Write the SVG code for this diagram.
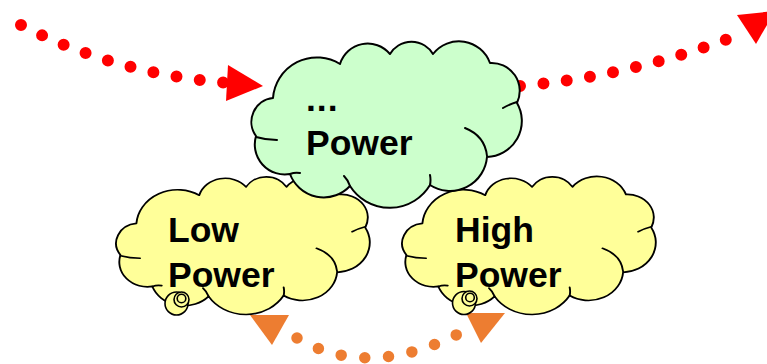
<svg xmlns="http://www.w3.org/2000/svg" width="767" height="364" viewBox="0 0 767 364">
<defs>
<style>
.cloud{stroke:#000;stroke-width:2;vector-effect:non-scaling-stroke;stroke-linejoin:round}
.inner{fill:none;stroke:#000;stroke-width:2;vector-effect:non-scaling-stroke;stroke-linecap:round}
.g{fill:#CCFFCC}
.y{fill:#FFFF99}
.tail{fill:#FFFF99;stroke:#000;stroke-width:1.6}
.lbl{font-family:"Liberation Sans",Arial,sans-serif;font-weight:bold;font-size:35.5px;fill:#000}
.red{fill:none;stroke:#FF0000;stroke-width:12;stroke-linecap:round;stroke-dasharray:0 23.5}
.org{fill:none;stroke:#ED7D31;stroke-width:11.5;stroke-linecap:round;stroke-dasharray:0 23.8}
</style>
<path id="cloudShape" d="M273,98 A44,44 0 0 1 340,64 A29,29 0 0 1 390,54 A25,25 0 0 1 433,54 A33,33 0 0 1 490,63 A28,28 0 0 1 517,103 A36,36 0 0 1 487,157 A37,37 0 0 1 430,185 A47,47 0 0 1 350,186 A36,36 0 0 1 290,174 A30,30 0 0 1 256,136 A24,24 0 0 1 273,98 Z"/>
<path id="cloudInner" d="M256,137 Q266,140 277,140 M517,102 Q510,104 503,108 M465,128 Q485,136 487,156 M430,175 Q431,180 430,185 M350,186 Q348,180 344,176 M290,174 Q295,172 300,173"/>
</defs>
<g id="connectors">
<path class="red" d="M21,25 Q115,74 229,83"/>
<polygon points="228,65 263,86 226,101" fill="#FF0000"/>
<path class="red" d="M520,86 Q631,76 733,37"/>
<polygon points="737,15 775,11 756,44" fill="#FF0000"/>
<path class="org" d="M297,338 Q368,380 460,333"/>
<polygon points="250,315 289,315 272,345" fill="#ED7D31"/>
<polygon points="466,313 505,313 481,343" fill="#ED7D31"/>
</g>
<g id="node-low">
<g transform="translate(112,177) scale(0.938,0.829) translate(-247,-42)">
<use href="#cloudShape" class="cloud y"/>
<use href="#cloudInner" class="inner"/>
</g>
<circle class="tail" cx="176.5" cy="303.5" r="11.5"/>
<circle class="tail" cx="181.5" cy="299.5" r="7.5"/>
<circle class="tail" cx="181.5" cy="298.5" r="4.3"/>
<text class="lbl" x="168" y="242">Low</text>
<text class="lbl" x="168" y="287">Power</text>
</g>
<g id="node-high">
<g transform="translate(398,177) scale(0.938,0.829) translate(-247,-42)">
<use href="#cloudShape" class="cloud y"/>
<use href="#cloudInner" class="inner"/>
</g>
<circle class="tail" cx="464" cy="303" r="11.5"/>
<circle class="tail" cx="469.5" cy="298.5" r="7.5"/>
<circle class="tail" cx="470" cy="297.5" r="4.3"/>
<text class="lbl" x="455" y="242">High</text>
<text class="lbl" x="455" y="287">Power</text>
</g>
<g id="node-power">
<use href="#cloudShape" class="cloud g"/>
<use href="#cloudInner" class="inner"/>
<text class="lbl" x="306" y="111" letter-spacing="1">...</text>
<text class="lbl" x="306" y="155">Power</text>
</g>
</svg>
